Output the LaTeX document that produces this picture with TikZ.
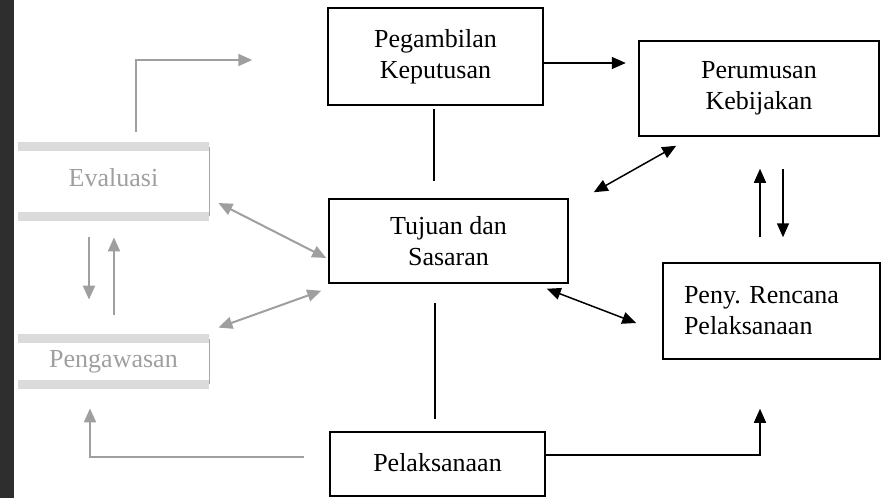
\documentclass[tikz,border=0pt]{standalone}
\usepackage{fontspec}
\setmainfont{Liberation Serif}
\usetikzlibrary{arrows.meta,calc}
\tikzset{
  kotak/.style={draw, line width=0.75pt, align=center, inner sep=0pt, font=\fontsize{13}{15.5}\selectfont},
  pudar/.style={inner sep=0pt, text=gray!75, font=\fontsize{13}{15.5}\selectfont},
  pita/.style={line width=4.5pt, draw=gray!28},
  garis/.style={line width=0.75pt},
  abu/.style={line width=1pt, draw=gray!75}
}
\begin{document}
\begin{tikzpicture}[x=0.5pt, y=-0.5pt, >={Triangle[length=7pt,width=6pt]}]
	\useasboundingbox (0,0) rectangle (885,498);
	% kotak utama
	\node[kotak, minimum width=107.5pt, minimum height=48.5pt] (peg) at (435.5,56.5) {Pegambilan\\Keputusan};
	\node[kotak, minimum width=120pt, minimum height=47.5pt] (rumus) at (759,88.5) {Perumusan\\Kebijakan};
	\node[kotak, minimum width=119.5pt, minimum height=42pt] (tujuan) at (448.5,241) {Tujuan dan\\Sasaran};
	\node[kotak, minimum height=48pt, text width=87.5pt, inner xsep=10.5pt, align=left] (peny) at (771.5,311) {Peny.\ Rencana\\Pelaksanaan};
	\node[kotak, minimum width=107.5pt, minimum height=32pt] (pel) at (437.5,464) {\raisebox{2pt}{Pelaksanaan}};
	% kotak pudar kiri
	\node[pudar, minimum width=95.5pt, minimum height=34.5pt] (eva) at (113.5,181.5) {\raisebox{4pt}{Evaluasi}};
	\node[pudar, minimum width=95.5pt, minimum height=22.5pt] (peng) at (113.5,361.5) {\raisebox{-1.5pt}{Pengawasan}};
	\draw[pita] (eva.north west) -- (eva.north east) (eva.south west) -- (eva.south east);
	\draw[pita] (peng.north west) -- (peng.north east) (peng.south west) -- (peng.south east);
	\draw[garis, gray!70] (eva.north east) -- (eva.south east) (peng.north east) -- (peng.south east);
	% penghubung
	\draw[garis,->] ($(peg.east)+(0,6.5)$) -- ($(peg.east)+(82,6.5)$);
	\draw[garis] ($(peg.south)+(-1.5,3)$) -- ($(tujuan.north)+(-14.5,-17)$);
	\draw[garis] ($(tujuan.south)+(-13.5,19)$) -- ($(pel.north)+(-2.5,-12)$);
	\draw[garis,<->] ($(tujuan.north east)+(25,-6)$) -- ($(rumus.south west)+(38,9)$);
	\draw[garis,<->] ($(tujuan.south east)+(-22,5)$) -- ($(peny.west)+(-26,12)$);
	\draw[garis,->] ($(peny.north)+(-11.5,-25)$) -- ($(rumus.south)+(1,32)$);
	\draw[garis,->] ($(rumus.south)+(24,32)$) -- ($(peny.north)+(11.5,-25)$);
	\draw[garis,->] ($(pel.east)+(0,-9)$) -| ($(peny.south)+(-11.5,49)$);
	% penghubung pudar
	\draw[abu,->] ($(pel.west)+(-25,-7)$) -| ($(peng.south)+(-23.5,24)$);
	\draw[abu,->] ($(eva.south)+(-24.5,21)$) -- ($(peng.north)+(-24.5,-39)$);
	\draw[abu,->] ($(peng.north)+(0.5,-24)$) -- ($(eva.south)+(0.5,21)$);
	\draw[abu,->] ($(eva.north)+(22.5,-15)$) |- ($(peg.west)+(-75,3.5)$);
	\draw[abu,<->] ($(eva.east)+(9,21.5)$) -- ($(tujuan.west)+(-2,17)$);
	\draw[abu,<->] ($(peng.north east)+(9,-11)$) -- ($(tujuan.south west)+(-7,7)$);
	% tepi gelap
	\fill[black!82] (0,0) rectangle (14,498);
\end{tikzpicture}
\end{document}
